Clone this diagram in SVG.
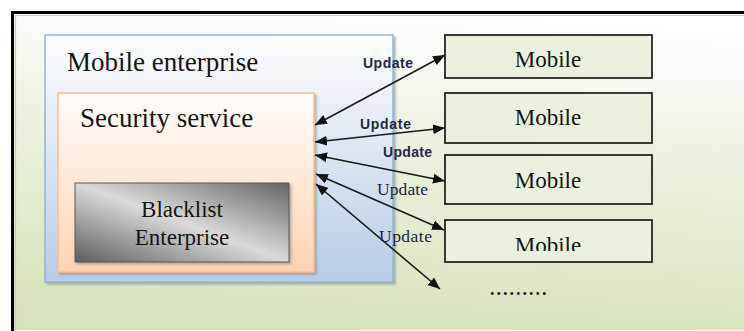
<svg xmlns="http://www.w3.org/2000/svg" width="744" height="331" viewBox="0 0 744 331">
  <defs>
    <linearGradient id="bgFill" x1="0.6" y1="0" x2="0.45" y2="1">
      <stop offset="0" stop-color="#ffffff"/>
      <stop offset="0.35" stop-color="#eef3e4"/>
      <stop offset="1" stop-color="#d6e3bb"/>
    </linearGradient>
    <linearGradient id="blueFill" x1="0" y1="0" x2="0" y2="1">
      <stop offset="0" stop-color="#fdfdfe"/>
      <stop offset="1" stop-color="#b8cce4"/>
    </linearGradient>
    <linearGradient id="peachFill" x1="0" y1="0" x2="0" y2="1">
      <stop offset="0" stop-color="#fffdfb"/>
      <stop offset="1" stop-color="#fcd3b2"/>
    </linearGradient>
    <linearGradient id="greyFill" x1="0" y1="1" x2="1" y2="0">
      <stop offset="0" stop-color="#5c5c5c"/>
      <stop offset="0.5" stop-color="#dadada"/>
      <stop offset="1" stop-color="#646464"/>
    </linearGradient>
    <filter id="shadow" x="-5%" y="-5%" width="115%" height="115%">
      <feDropShadow dx="2" dy="2" stdDeviation="1" flood-color="#7f7f7f" flood-opacity="0.55"/>
    </filter>
    <marker id="head" viewBox="0 0 12 10" refX="12" refY="5" markerWidth="12" markerHeight="10" markerUnits="userSpaceOnUse" orient="auto-start-reverse">
      <path d="M0,0 L12,5 L0,10 Z" fill="#111"/>
    </marker>
    <clipPath id="lastBoxClip">
      <rect x="445" y="220" width="208" height="31"/>
    </clipPath>
  </defs>
  <style>
    .serif { font-family: "Liberation Serif", "Times New Roman", serif; fill: #141414; }
    .title { font-size: 27px; }
    .node-text { font-size: 23px; }
    .mobile { fill: #ebf1de; stroke: #262626; stroke-width: 1.8; }
    .link { stroke: #1a1a1a; stroke-width: 1.6; fill: none; marker-start: url(#head); marker-end: url(#head); }
    .tag-sans { font-family: "Liberation Sans", Arial, sans-serif; font-size: 14px; font-weight: bold; fill: #1f2a48; }
    .tag-serif { font-family: "Liberation Serif", "Times New Roman", serif; font-size: 17.5px; fill: #1f2446; }
  </style>

  <!-- background panel with heavy top/left rule -->
  <g id="frame">
    <rect x="12" y="12" width="740" height="318" fill="url(#bgFill)"/>
    <path d="M15.5,331 V15.5 H744" fill="none" stroke="#c3d69b" stroke-width="1.2"/>
    <path d="M12.5,331 V12.5 H744" fill="none" stroke="#000" stroke-width="3"/>
  </g>

  <g id="node-mobile-enterprise">
    <rect x="45" y="35" width="348" height="247" fill="url(#blueFill)" stroke="#95b3d7" stroke-width="1.5" filter="url(#shadow)"/>
    <text class="serif title" x="67" y="71">Mobile enterprise</text>
  </g>

  <g id="node-security-service">
    <rect x="58" y="93" width="256" height="179" fill="url(#peachFill)" stroke="#f9bf8f" stroke-width="1.5" filter="url(#shadow)"/>
    <text class="serif title" x="80" y="127">Security service</text>
  </g>

  <g id="node-blacklist">
    <rect x="75" y="183" width="214" height="79" fill="url(#greyFill)" stroke="#595959" stroke-width="1" filter="url(#shadow)"/>
    <text class="serif node-text" x="182" y="217" text-anchor="middle">Blacklist</text>
    <text class="serif node-text" x="182" y="245" text-anchor="middle">Enterprise</text>
  </g>

  <g id="node-mobile-1">
    <rect class="mobile" x="445" y="35" width="207" height="43"/>
    <text class="serif node-text" x="548" y="67" text-anchor="middle">Mobile</text>
  </g>
  <g id="node-mobile-2">
    <rect class="mobile" x="445" y="93" width="207" height="50"/>
    <text class="serif node-text" x="548" y="125" text-anchor="middle">Mobile</text>
  </g>
  <g id="node-mobile-3">
    <rect class="mobile" x="445" y="155" width="207" height="49"/>
    <text class="serif node-text" x="548" y="188" text-anchor="middle">Mobile</text>
  </g>
  <g id="node-mobile-4">
    <rect class="mobile" x="445" y="220" width="207" height="42"/>
    <text class="serif node-text" x="548" y="253" text-anchor="middle" clip-path="url(#lastBoxClip)">Mobile</text>
  </g>

  <g id="node-more">
    <text class="serif" x="489" y="295" font-size="26">.........</text>
  </g>

  <g id="connectors">
    <line class="link" x1="315" y1="125" x2="445" y2="55"/>
    <line class="link" x1="315" y1="142" x2="445" y2="128"/>
    <line class="link" x1="315" y1="155" x2="445" y2="181"/>
    <line class="link" x1="316" y1="174" x2="444" y2="230"/>
    <line class="link" x1="316" y1="184" x2="440" y2="289"/>
    <text class="tag-sans" x="363" y="68" textLength="50">Update</text>
    <text class="tag-sans" x="360" y="129" textLength="51">Update</text>
    <text class="tag-sans" x="383" y="157" textLength="49">Update</text>
    <text class="tag-serif" x="377" y="195" textLength="51">Update</text>
    <text class="tag-serif" x="379" y="242" textLength="53">Update</text>
  </g>
</svg>
